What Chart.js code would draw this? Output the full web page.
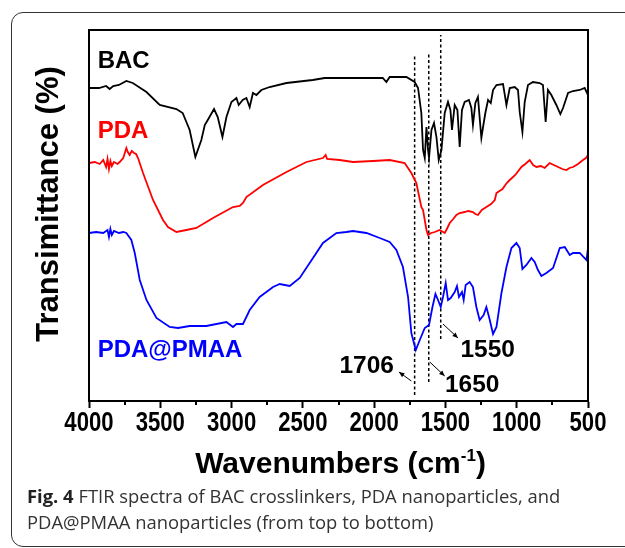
<!DOCTYPE html>
<html><head><meta charset="utf-8">
<script src="https://cdn.jsdelivr.net/npm/chart.js@4/dist/chart.umd.min.js"></script>
<style>
html,body{margin:0;padding:0;background:#fff;width:625px;height:548px;overflow:hidden;position:relative}
#frame{position:absolute;left:11px;top:12px;width:700px;height:535px;border:1.5px solid #333;border-radius:12px;box-sizing:border-box}
#c{position:absolute;left:0;top:0}
#cap{position:absolute;left:27px;top:483px;font-family:'Open Sans',sans-serif;font-size:18.4px;line-height:26px;color:#333;white-space:nowrap}
#cap b{color:#222}
</style></head><body>
<div id="frame"></div>
<canvas id="c" width="625" height="548"></canvas>
<div id="cap"><b>Fig. 4</b> FTIR spectra of BAC crosslinkers, PDA nanoparticles, and<br>PDA@PMAA nanoparticles (from top to bottom)</div>
<script>
// ---- data: [wavenumber (cm-1), transmittance (arb. units)] ----
const bac = [[4000,313],[3930,313],[3880,315],[3855,312],[3830,315],[3790,316],[3738,320],[3693,318],[3597,309],[3504,296],[3387,292],[3343,288],[3294,271],[3254,244],[3212,261],[3188,276],[3167,281],[3123,292],[3097,284],[3064,264],[3036,284],[3001,299],[2966,303],[2950,296],[2922,301],[2896,303],[2873,294],[2850,308],[2826,306],[2791,311],[2733,314],[2615,318],[2431,321],[2347,323],[2171,323],[2054,323],[1940,323],[1914,319],[1891,324],[1774,324],[1716,319],[1692,313],[1669,288],[1657,251],[1645,243],[1633,274],[1622,251],[1615,243],[1598,271],[1580,278],[1563,264],[1547,241],[1528,251],[1505,288],[1482,299],[1465,291],[1454,271],[1435,296],[1416,291],[1400,254],[1384,291],[1365,299],[1335,301],[1318,293],[1307,276],[1290,298],[1272,304],[1248,263],[1236,274],[1220,288],[1201,301],[1182,298],[1166,311],[1142,316],[1096,317],[1072,296],[1049,313],[1014,314],[991,311],[979,289],[960,269],[944,299],[921,316],[886,319],[839,318],[816,316],[797,279],[781,311],[757,306],[722,296],[694,287],[675,293],[640,308],[605,310],[558,311],[523,313],[500,306]];
const pda = [[4000,238],[3960,239],[3925,237],[3900,241],[3880,234],[3870,242],[3860,232],[3850,240],[3840,235],[3825,239],[3800,237],[3785,239],[3760,243],[3738,253],[3728,249],[3715,246],[3700,250],[3684,248],[3670,247],[3656,243],[3621,228],[3551,201],[3481,181],[3446,174],[3387,169],[3317,171],[3247,173],[3130,183],[2990,194],[2943,195],[2920,198],[2896,204],[2780,216],[2615,229],[2475,239],[2359,243],[2340,246],[2330,242],[2242,241],[2148,239],[2008,240],[1891,241],[1786,238],[1739,228],[1704,218],[1669,194],[1657,191],[1633,171],[1622,166],[1600,168],[1575,169],[1540,171],[1505,168],[1490,172],[1470,178],[1445,182],[1423,186],[1400,188],[1365,189],[1340,190],[1307,189],[1290,187],[1272,186],[1245,191],[1213,194],[1180,197],[1154,201],[1142,208],[1100,212],[1070,218],[1049,221],[1010,226],[967,234],[940,237],[909,241],[885,236],[862,234],[830,235],[804,233],[769,238],[740,236],[710,234],[680,232],[651,231],[630,233],[605,234],[570,237],[535,241],[515,243],[500,246]];
const pdaPmaa = [[4000,168],[3950,169],[3900,168],[3870,171],[3860,164],[3850,172],[3840,166],[3825,170],[3790,168],[3760,169],[3738,168],[3703,161],[3679,148],[3644,121],[3597,101],[3527,83],[3434,74],[3376,73],[3294,75],[3177,75],[3036,79],[2990,74],[2966,77],[2920,77],[2873,91],[2803,104],[2709,114],[2662,117],[2592,115],[2522,123],[2429,143],[2359,158],[2265,168],[2195,169],[2148,170],[2054,168],[1961,163],[1891,159],[1844,151],[1798,134],[1762,104],[1739,68],[1708,51],[1680,61],[1645,73],[1615,76],[1591,94],[1570,107],[1552,101],[1533,94],[1517,104],[1498,118],[1482,101],[1463,103],[1435,109],[1419,115],[1405,104],[1384,109],[1372,101],[1358,116],[1330,119],[1307,114],[1283,94],[1260,81],[1232,86],[1213,94],[1194,84],[1166,67],[1142,74],[1107,108],[1072,134],[1037,153],[1002,158],[979,153],[960,132],[932,136],[897,143],[874,139],[851,131],[827,125],[792,128],[745,133],[698,153],[663,154],[628,146],[605,148],[558,148],[511,141],[500,153]];
const seriesNames = ['BAC', 'PDA', 'PDA@PMAA'];
const seriesLabelY = [340, 270, 51];
const markerWn = [1716, 1617, 1533];
const markerTop = [347, 347, 366];
const markerBottom = [6, 19, 62];
const markerLabels = ['1706', '1650', '1550'];
const majorTicks = [4000, 3500, 3000, 2500, 2000, 1500, 1000, 500];
const minorTicks = [3750, 3250, 2750, 2250, 1750, 1250, 750];

const seriesColors = ['#000000', '#ff0000', '#0000ff'];

const tickFont = {family: '"Liberation Sans", Arial, sans-serif', size: 22, weight: 'bold', lineHeight: 1};

const toXY = arr => arr.map(p => ({x: p[0], y: p[1]}));
const datasets = [bac, pda, pdaPmaa].map((s, i) => ({
  label: seriesNames[i], data: toXY(s), borderColor: seriesColors[i],
  borderWidth: 1.8, pointRadius: 0, tension: 0, fill: false
}));
markerWn.forEach((w, i) => datasets.push({
  label: 'm' + i, data: [{x: w, y: markerBottom[i]}, {x: w, y: markerTop[i]}],
  borderColor: '#000', borderWidth: 1.5, borderDash: [3, 2.5], pointRadius: 0, fill: false
}));

function arrow(ctx, x1, y1, x2, y2){
  const ang = Math.atan2(y2 - y1, x2 - x1), h = 6;
  ctx.beginPath(); ctx.moveTo(x1, y1); ctx.lineTo(x2, y2); ctx.stroke();
  ctx.beginPath(); ctx.moveTo(x2, y2);
  ctx.lineTo(x2 - h * Math.cos(ang - 0.4), y2 - h * Math.sin(ang - 0.4));
  ctx.lineTo(x2 - h * Math.cos(ang + 0.4), y2 - h * Math.sin(ang + 0.4));
  ctx.closePath(); ctx.fill();
}

const deco = {
  id: 'deco',
  afterDraw(chart){
    const {ctx, chartArea: a, scales: {x, y}} = chart;
    ctx.save();
    ctx.strokeStyle = '#000'; ctx.fillStyle = '#000'; ctx.lineWidth = 2;
    ctx.strokeRect(a.left, a.top, a.right - a.left, a.bottom - a.top);
    ctx.beginPath();
    minorTicks.forEach(v => { const px = Math.round(x.getPixelForValue(v)); ctx.moveTo(px, a.bottom); ctx.lineTo(px, a.bottom + 4); });
    ctx.stroke();
    // tick labels (narrow bold, as in the figure)
    ctx.textAlign = 'center'; ctx.textBaseline = 'middle';
    ctx.font = 'bold 27px "Liberation Sans", Arial, sans-serif';
    x.ticks.forEach(t => {
      ctx.save(); ctx.translate(x.getPixelForValue(t.value), a.bottom + 22.5); ctx.scale(0.82, 1);
      ctx.fillText(String(t.value), 0, 0); ctx.restore();
    });
    // series names
    ctx.font = 'bold 24px "Liberation Sans", Arial, sans-serif';
    ctx.textAlign = 'left'; ctx.textBaseline = 'middle';
    seriesNames.forEach((n, i) => { ctx.fillStyle = seriesColors[i]; ctx.fillText(n, x.getPixelForValue(3939), y.getPixelForValue(seriesLabelY[i])); });
    // peak annotations
    ctx.fillStyle = '#000';
    ctx.font = 'bold 24.5px "Liberation Sans", Arial, sans-serif';
    ctx.textAlign = 'center';
    const labelPos = [[2052, 35], [1312, 15.5], [1204, 51]];
    markerLabels.forEach((t, i) => ctx.fillText(t, x.getPixelForValue(labelPos[i][0]), y.getPixelForValue(labelPos[i][1])));
    ctx.lineWidth = 1;
    const arrows = [[1739, 20, 1826, 29], [1610, 39, 1505, 25], [1517, 77, 1412, 63]];
    arrows.forEach(r => arrow(ctx, x.getPixelForValue(r[0]), y.getPixelForValue(r[1]), x.getPixelForValue(r[2]), y.getPixelForValue(r[3])));
    // x title with superscript
    const cx = (a.left + a.right) / 2 + 2, by = 473;
    const f1 = 'bold 30px "Liberation Sans", Arial, sans-serif', f2 = 'bold 17px "Liberation Sans", Arial, sans-serif';
    ctx.textAlign = 'left'; ctx.textBaseline = 'alphabetic';
    ctx.font = f1; const w1 = ctx.measureText('Wavenumbers (cm').width, w3 = ctx.measureText(')').width;
    ctx.font = f2; const w2 = ctx.measureText('-1').width;
    let sx = cx - (w1 + w2 + w3) / 2;
    ctx.font = f1; ctx.fillText('Wavenumbers (cm', sx, by); sx += w1;
    ctx.font = f2; ctx.fillText('-1', sx, by - 12); sx += w2;
    ctx.font = f1; ctx.fillText(')', sx, by);
    // y title
    ctx.translate(49, 204); ctx.rotate(-Math.PI / 2);
    ctx.font = 'bold 31px "Liberation Sans", Arial, sans-serif';
    ctx.textAlign = 'center'; ctx.textBaseline = 'middle';
    ctx.fillText('Transimittance (%)', 0, 0);
    ctx.restore();
  }
};

new Chart(document.getElementById('c'), {
  type: 'line',
  data: {datasets},
  options: {
    responsive: false, animation: false, devicePixelRatio: 1,
    layout: {padding: {left: 89, right: 37, top: 30, bottom: 110}},
    plugins: {legend: {display: false}, tooltip: {enabled: false}},
    scales: {
      x: {
        type: 'linear', reverse: true, min: 500, max: 4000,
        afterBuildTicks: s => { s.ticks = majorTicks.map(v => ({value: v})); },
        ticks: {color: 'rgba(0,0,0,0)', font: tickFont, padding: 4, autoSkip: false, maxRotation: 0, callback: v => String(v)},
        grid: {display: true, drawOnChartArea: false, drawTicks: true, tickLength: 7, tickWidth: 2, tickColor: '#000', color: '#000'},
        border: {display: true, width: 2, color: '#000'}
      },
      y: {type: 'linear', min: 0, max: 371, display: false}
    }
  },
  plugins: [deco]
});
</script>
</body></html>
